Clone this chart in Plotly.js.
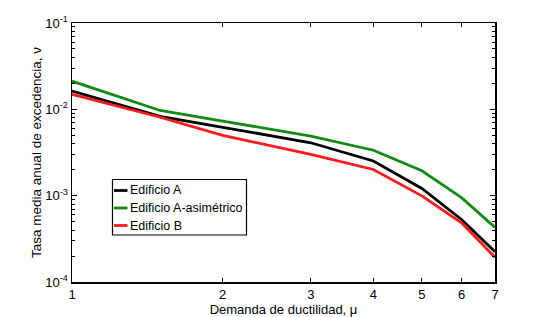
<!DOCTYPE html>
<html>
<head>
<meta charset="utf-8">
<script src="https://cdn.plot.ly/plotly-3.0.1.min.js"></script>
<style>html,body{margin:0;padding:0;background:#fff;}#chart{width:547px;height:317px;}</style>
</head>
<body>
<div id="chart"></div>
<script>
var ductility = [1, 1.5, 2, 3, 4, 5, 6, 7];
var edificioA = [0.0163, 0.0083, 0.0062, 0.0041, 0.00252, 0.00121, 0.00053, 0.000224];
var edificioAasim = [0.0212, 0.0097, 0.0073, 0.0049, 0.00336, 0.00194, 0.00095, 0.000429];
var edificioB = [0.0149, 0.0081, 0.0050, 0.0030, 0.00201, 0.000995, 0.000485, 0.000193];
var seriesNames = ['Edificio A', 'Edificio A-asimétrico', 'Edificio B'];
var xTicks = [1, 2, 3, 4, 5, 6, 7];
var yTicks = [1e-4, 1e-3, 1e-2, 1e-1];
var yTickText = ['10<sup>-4</sup>', '10<sup>-3</sup>', '10<sup>-2</sup>', '10<sup>-1</sup>'];

var minorY = [];
yTicks.slice(0, 3).forEach(function (d) { for (var k = 2; k <= 9; k++) minorY.push(d * k); });

var colors = ['#000000', '#138a13', '#ff1a1a'];
var data = [edificioA, edificioAasim, edificioB].map(function (ys, i) {
  return {x: ductility, y: ys, type: 'scatter', mode: 'lines', name: seriesNames[i],
          line: {color: colors[i], width: 2.8}, showlegend: false};
});

// plot area in pixels
var L = 72, R = 52, T = 23, B = 35, W = 547, H = 317;
var pw = W - L - R, ph = H - T - B;
function px(x) { return (x - L) / pw; }
function py(y) { return (H - B - y) / ph; }

var font = {family: 'Arial, Liberation Sans, sans-serif', size: 13, color: '#000'};
var legFont = {family: 'Arial, Liberation Sans, sans-serif', size: 12.5, color: '#000'};

// custom legend (MATLAB style, short line samples)
var shapes = [{type: 'rect', xref: 'paper', yref: 'paper', x0: px(112.5), x1: px(246.5), y0: py(235), y1: py(179.5),
               line: {color: '#000', width: 1.2}, fillcolor: '#fff', layer: 'above'}];
var annotations = [];
var rowY = [190.5, 208, 225.5];
seriesNames.forEach(function (n, i) {
  shapes.push({type: 'line', xref: 'paper', yref: 'paper', x0: px(114), x1: px(127.5), y0: py(rowY[i]), y1: py(rowY[i]),
               line: {color: colors[i], width: 2.8}, layer: 'above'});
  annotations.push({xref: 'paper', yref: 'paper', x: px(127.5), y: py(rowY[i]), xanchor: 'left', yanchor: 'middle',
                    text: n, showarrow: false, font: legFont});
});

var layout = {
  width: W, height: H,
  margin: {l: L, r: R, t: T, b: B},
  paper_bgcolor: '#fff', plot_bgcolor: '#fff',
  font: font,
  showlegend: false,
  shapes: shapes,
  annotations: annotations,
  xaxis: {type: 'log', range: [0, Math.log10(7)], tickvals: xTicks, ticktext: xTicks.map(String),
          ticks: 'inside', ticklen: 4, tickcolor: '#000', showline: true, linecolor: '#000', linewidth: 1.5,
          mirror: 'allticks', showgrid: false, zeroline: false, tickfont: font,
          title: {text: 'Demanda de ductilidad, μ', font: font, standoff: 2}},
  yaxis: {type: 'log', range: [-4, -1], tickvals: yTicks, ticktext: yTickText,
          ticks: 'inside', ticklen: 5, tickcolor: '#000', showline: true, linecolor: '#000', linewidth: 1.5,
          mirror: 'allticks', showgrid: false, zeroline: false, tickfont: font,
          minor: {tickvals: minorY, ticks: 'inside', ticklen: 3, tickcolor: '#000', showgrid: false},
          title: {text: 'Tasa media anual de excedencia, ν', font: {family: font.family, size: 13.5, color: '#000'}, standoff: 0}}
};
Plotly.newPlot('chart', data, layout, {displayModeBar: false, staticPlot: true});
</script>
</body>
</html>
